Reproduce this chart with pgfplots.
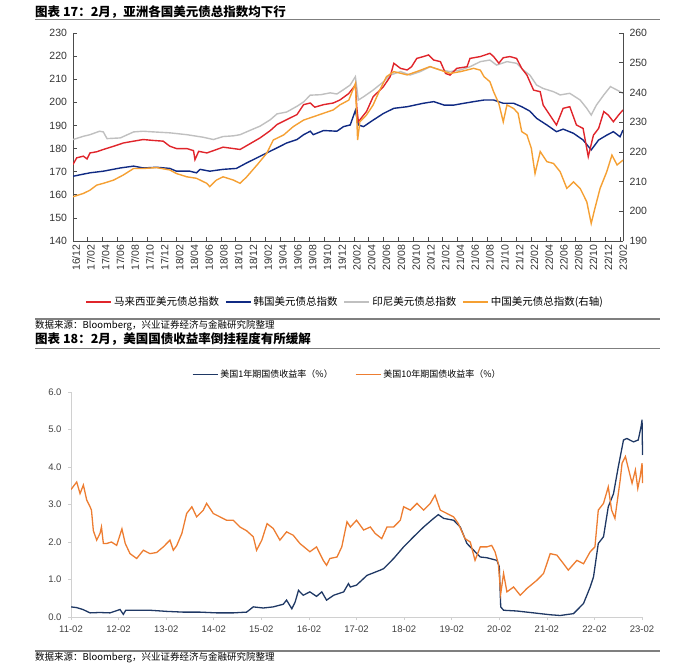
\documentclass[border=0pt]{standalone}
\usepackage{fontspec}
\setmainfont{Liberation Sans}
\newfontfamily\cjk{Noto Sans CJK SC}
\usepackage{pgfplots}
\usepackage{pgfplotstable}
\pgfplotsset{compat=1.18}
\definecolor{cRed}{HTML}{E0252B}
\definecolor{cNavy}{HTML}{102A83}
\definecolor{cGray}{HTML}{C0C0C0}
\definecolor{cOrg}{HTML}{F5A033}
\definecolor{cNavyB}{HTML}{1F3864}
\definecolor{cOrgB}{HTML}{ED7D31}
\definecolor{ruleGray}{HTML}{7F7F7F}
\definecolor{axGray}{HTML}{D0D0D0}

\pgfplotstableread{
m v
0 173.1
0.5 176
1.4 176.7
1.9 175.5
2.3 178.1
3.2 178.6
4.1 179.6
5.5 181
6.8 182.4
8.2 183.2
9.5 183.9
10.9 183.5
12.2 183.2
13.1 181
14 180
15.4 180
16.3 179.1
16.5 175.2
17 178.8
18.1 178.1
19 179.1
20.3 180.6
21.7 180
22.6 179.6
23.9 182
25.3 184.6
26.7 187.8
27.6 190.4
28.9 192.5
30.3 194.7
31.2 199
32.1 199.7
32.7 197.9
33.9 199
35.2 199.7
36.1 201
37.3 203.8
38.2 207.5
38.4 197.4
38.6 191.6
39.7 196
40.6 202.4
42 206.8
42.9 211.1
43.4 216.9
44.3 214.7
45.2 214
45.8 215.4
46.5 219
47.4 219.8
48.1 220.5
48.8 218.3
49.7 217.6
50.4 212.5
51 211.8
51.9 214.7
53.3 215.4
53.7 219
55.1 219.8
56.4 221.2
56.9 219.8
57.6 216.9
58.2 219.3
59.1 219.8
60 219
60.7 214.7
61.4 211.8
62.3 205.3
63.2 204.6
63.6 198.8
64.5 194.5
65.4 190.2
66.3 197.4
67.2 198.1
68.1 190.2
69 188.7
69.7 176.5
70.4 185.8
71.1 188.7
71.8 196
72.4 194.5
73.1 191.6
73.8 194.5
74.4 196.7
}\redtab

\pgfplotstableread{
m v
0 168.0
1.2 168.8
2.3 169.5
4.1 170.2
6.4 171.6
8.2 172.4
9.5 171.6
11.3 171.9
13.1 171.4
14.0 170.2
15.8 170.2
16.7 169.5
17.2 171.0
18.5 170.2
20.3 171.0
22.1 171.4
23.5 173.8
24.9 176.0
26.2 178.1
27.6 180.3
28.9 182.4
30.3 183.9
31.2 186.0
32.1 187.5
32.5 186.0
33.9 187.8
35.7 187.5
36.6 189.5
37.5 190.2
38.2 196.5
38.6 190.2
39.3 189.5
40.6 192.3
42 195.2
43.4 197.4
45.2 198.1
47.4 199.6
48.8 200.3
50.2 198.8
51.5 198.8
52.9 199.6
54.2 200.3
55.6 201
56.9 201
58.2 199.6
59.6 199.6
60.7 198.1
61.8 196.2
62.7 193.1
64.1 190.2
65.4 187.3
66.3 188.4
67.7 186.6
69 183.7
70.1 179.4
71.1 183.7
72.2 185.8
73.1 187.3
74 185.1
74.4 188
}\bluetab

\pgfplotstableread{
m v
0 183.9
1.4 185.3
2.3 186
3.6 187.5
4.1 187.2
4.6 184.3
6.4 184.6
8.2 187.2
9.5 187.5
10.9 187.2
13.1 186.8
15.4 186
17.6 184.9
19 183.9
20.3 185.2
21.7 185.5
22.6 186
23.9 187.8
25.3 189.7
26.7 192.5
27.6 195
28.9 195.8
30.3 198.3
31.2 200.2
32.1 203.1
33.5 203.3
34.8 204.1
35.7 203.6
36.6 205.5
37.5 207.5
38.2 211.1
38.6 201
39.3 202.4
40.6 205.3
42 208.9
42.9 211.8
44.3 213.3
45.6 211.8
47 213.3
48.3 215.4
49.7 214
51 213.3
52.4 214
53.7 215.4
55.1 217.6
56.4 218.3
57.3 216.1
58.7 217.6
60 216.9
60.9 214
61.8 211.8
62.7 207.5
63.6 206
65 204.6
65.9 203.2
67.2 203.9
68.6 201
69.5 197.4
70.1 194.5
70.8 198.8
71.8 203.2
72.7 206.8
73.6 205.3
74.4 203.9
}\graytab

\pgfplotstableread{
m v
0 204.9
1.4 206
2.3 207.1
3.2 208.8
4.1 209.4
5.5 210.5
6.8 212.2
8.2 214.4
9.5 214.4
11.3 214.7
13.1 213.9
14 212.7
15.4 211.6
16.7 211.1
18.1 209.4
18.5 208.3
19.4 210.5
20.3 211.6
21.7 210.5
22.6 209.4
23.5 211.6
24.9 215.6
26.2 219.5
27.1 224
28.5 225.7
29.8 228.5
31.2 230.7
32.5 231.8
33.9 233
35.2 234.1
36.1 235.8
37.3 237.4
37.5 238.6
38.2 243
38.5 224
38.8 230.1
39.7 232.4
40.6 235.8
41.5 240.8
42.4 245.3
43.4 247
45.2 245.9
46.5 247
48.3 248.7
49.7 247.5
51 246.4
52.4 247
54.2 248.1
55.1 247.5
55.6 245.3
56.4 243.6
56.9 240.2
57.6 236.3
58.2 230.1
58.7 235.8
59.6 234.6
60.2 233
60.7 226.8
61.4 225.7
62 221.2
62.5 212.7
63.2 220.1
64.1 216.7
65 216.1
65.9 213.3
66.8 207.7
67.7 209.9
68.6 207.7
69.5 203.2
70.1 195.9
70.6 201
71.3 207.7
72.2 213.3
72.9 218.9
73.6 215.6
74.4 217.2
}\orgtab

\pgfplotstableread{
t v
0 0.27
0.12 0.25
0.25 0.2
0.40 0.11
0.6 0.12
0.82 0.11
1.03 0.2
1.1 0.07
1.15 0.18
1.31 0.18
1.66 0.18
2.01 0.15
2.36 0.13
2.71 0.13
3.06 0.11
3.41 0.11
3.69 0.13
3.83 0.27
4.04 0.24
4.25 0.27
4.46 0.34
4.53 0.45
4.64 0.22
4.71 0.40
4.78 0.71
4.88 0.58
5.02 0.67
5.16 0.55
5.27 0.67
5.37 0.45
5.52 0.58
5.73 0.67
5.83 0.89
5.87 0.8
6.0 0.85
6.22 1.11
6.50 1.25
6.57 1.29
6.78 1.56
6.99 1.87
7.20 2.14
7.41 2.40
7.62 2.63
7.72 2.73
7.83 2.63
8.04 2.58
8.18 2.40
8.32 1.96
8.46 1.78
8.60 1.60
8.74 1.58
8.95 1.51
9.00 1.34
9.03 0.27
9.09 0.18
9.37 0.16
9.72 0.11
10.07 0.06
10.28 0.04
10.56 0.09
10.77 0.36
10.91 0.80
10.98 1.07
11.08 1.96
11.19 2.14
11.29 2.94
11.40 3.29
11.50 4.0
11.61 4.72
11.68 4.76
11.82 4.67
11.92 4.72
11.98 5.08
12.0 5.26
12.01 4.32
}\oneytab

\pgfplotstableread{
t v
0 3.4
0.12 3.6
0.19 3.29
0.26 3.52
0.33 3.12
0.40 2.94
0.43 2.85
0.47 2.3
0.54 2.05
0.61 2.23
0.64 2.4
0.68 1.96
0.75 1.96
0.85 2.0
0.96 1.91
1.07 2.35
1.14 1.96
1.24 1.69
1.38 1.56
1.52 1.78
1.66 1.69
1.80 1.72
1.94 1.87
2.08 2.05
2.15 1.78
2.22 1.9
2.33 2.23
2.43 2.76
2.54 2.94
2.64 2.67
2.78 2.85
2.85 3.03
2.99 2.76
3.13 2.67
3.27 2.58
3.41 2.58
3.55 2.4
3.69 2.3
3.83 2.14
3.90 1.78
4.01 2.05
4.12 2.49
4.25 2.36
4.39 2.05
4.53 2.27
4.67 2.18
4.81 1.96
5.02 1.74
5.16 1.87
5.30 1.51
5.37 1.38
5.44 1.56
5.59 1.6
5.69 1.87
5.80 2.54
5.87 2.4
6.0 2.58
6.15 2.32
6.29 2.4
6.39 2.23
6.53 2.09
6.64 2.4
6.78 2.4
6.92 2.58
6.99 2.94
7.13 2.85
7.27 3.03
7.41 2.85
7.55 3.03
7.65 3.25
7.76 2.85
7.90 2.76
8.04 2.67
8.14 2.49
8.28 2.09
8.39 2.0
8.49 1.51
8.60 1.87
8.74 1.87
8.84 1.91
8.91 1.74
8.98 1.42
9.03 0.62
9.09 1.16
9.16 0.67
9.30 0.8
9.44 0.58
9.58 0.76
9.79 0.98
9.93 1.16
10.07 1.69
10.21 1.65
10.35 1.42
10.45 1.25
10.63 1.51
10.77 1.42
10.91 1.74
11.01 1.87
11.08 2.85
11.19 3.03
11.29 3.47
11.36 2.85
11.43 2.63
11.54 3.65
11.58 4.1
11.65 4.28
11.72 3.92
11.79 3.57
11.86 3.92
11.91 3.43
11.96 3.74
12.0 4.1
12.01 3.57
}\tenytab

\begin{document}
\begin{tikzpicture}[x=1pt,y=1pt]
\useasboundingbox (0pt,0pt) rectangle (700pt,669pt);

% ---------- Chart 17 ----------
\node[anchor=west,inner sep=0] at (35pt,657.3pt) {\fontsize{12.5}{14}\selectfont\cjk\bfseries 图表 17：2月，亚洲各国美元债总指数均下行};
\draw[ruleGray,line width=0.8pt] (35pt,649.7pt) -- (660pt,649.7pt);

\pgfplotsset{
  c1/.style={
    at={(73pt,428pt)}, anchor=south west, scale only axis,
    width=550pt, height=208pt,
    xmin=0, xmax=74.4,
    /pgf/number format/assume math mode=true,
    tick label style={font=\fontsize{10.5}{12}\selectfont, black!80},
    axis line style={black!70, line width=0.8pt},
    tick style={black!70, line width=0.6pt},
    tick align=inside, major tick length=4pt,
  }
}
\begin{axis}[c1,
  ymin=140, ymax=230, ytick={140,150,...,230},
  axis x line*=bottom, axis y line*=left,
  yticklabel style={xshift=-2.5pt},
  xtick={0,2,...,74},
  xticklabels={16/12,17/02,17/04,17/06,17/08,17/10,17/12,18/02,18/04,18/06,18/08,18/10,18/12,19/02,19/04,19/06,19/08,19/10,19/12,20/02,20/04,20/06,20/08,20/10,20/12,21/02,21/04,21/06,21/08,21/10,21/12,22/02,22/04,22/06,22/08,22/10,22/12,23/02},
  xticklabel style={rotate=90, anchor=east, yshift=-3pt},
  ]
  \addplot[cGray, line width=1.4pt] table[x=m,y=v] {\graytab};
  \addplot[cNavy, line width=1.4pt] table[x=m,y=v] {\bluetab};
  \addplot[cRed, line width=1.4pt] table[x=m,y=v] {\redtab};
\end{axis}
\begin{axis}[c1,
  ymin=190, ymax=260, ytick={190,200,...,260},
  hide x axis, axis y line*=right,
  yticklabel style={xshift=3pt},
  legend style={at={(0.495,-0.292)}, anchor=center, draw=none, fill=none,
     font=\fontsize{10.5}{12}\selectfont, legend columns=4,
     /tikz/every even column/.append style={column sep=4pt},
     inner sep=0pt, nodes={inner sep=2pt}},
  legend image code/.code={\draw[#1] (0pt,0pt) -- (25pt,0pt);},
  ]
  \addplot[cOrg, line width=1.4pt, forget plot] table[x=m,y=v] {\orgtab};
  \addlegendimage{cRed, line width=1.6pt}
  \addlegendentry{\cjk 马来西亚美元债总指数}
  \addlegendimage{cNavy, line width=1.6pt}
  \addlegendentry{\cjk 韩国美元债总指数}
  \addlegendimage{cGray, line width=1.6pt}
  \addlegendentry{\cjk 印尼美元债总指数}
  \addlegendimage{cOrg, line width=1.6pt}
  \addlegendentry{\cjk 中国美元债总指数(右轴)}
\end{axis}

\draw[ruleGray,line width=1.2pt] (35pt,350pt) -- (660pt,350pt);
\node[anchor=west,inner sep=0] at (35pt,343pt) {\fontsize{9.5}{11}\selectfont\cjk 数据来源：Bloomberg，兴业证券经济与金融研究院整理};
\node[anchor=west,inner sep=0] at (35pt,330pt) {\fontsize{12.5}{14}\selectfont\cjk\bfseries 图表 18：2月，美国国债收益率倒挂程度有所缓解};
\draw[ruleGray,line width=0.8pt] (35pt,321pt) -- (660pt,321pt);

% ---------- Chart 18 ----------
\begin{axis}[
  at={(71pt,52pt)}, anchor=south west, scale only axis,
  width=572pt, height=225pt,
  xmin=0, xmax=12.02, ymin=0, ymax=6,
  axis x line*=bottom, axis y line*=left,
  axis line style={axGray, line width=0.8pt},
  tick style={axGray, line width=0.6pt},
  tick align=outside, major tick length=3pt,
  /pgf/number format/assume math mode=true,
  tick label style={font=\fontsize{9.5}{11}\selectfont, black!75},
  ytick={0,1,...,6},
  yticklabel style={/pgf/number format/fixed, /pgf/number format/fixed zerofill, /pgf/number format/precision=1, xshift=-3pt},
  xtick={0,1,...,12},
  xticklabels={11-02,12-02,13-02,14-02,15-02,16-02,17-02,18-02,19-02,20-02,21-02,22-02,23-02},
  xticklabel style={yshift=-2pt},
  legend style={at={(0.483,1.077)}, anchor=center, draw=none, fill=none,
     font=\fontsize{9}{11}\selectfont, legend columns=2,
     /tikz/every even column/.append style={column sep=20pt},
     inner sep=0pt, nodes={inner sep=2pt}},
  legend image code/.code={\draw[#1] (0pt,0pt) -- (25pt,0pt);},
  ]
  \addplot[cNavyB, line width=1.3pt, forget plot] table[x=t,y=v] {\oneytab};
  \addplot[cOrgB, line width=1.3pt, forget plot] table[x=t,y=v] {\tenytab};
  \addlegendimage{cNavyB, line width=1.6pt}
  \addlegendentry{\cjk 美国1年期国债收益率（\%）}
  \addlegendimage{cOrgB, line width=1.6pt}
  \addlegendentry{\cjk 美国10年期国债收益率（\%）}
\end{axis}

\draw[ruleGray,line width=1.2pt] (35pt,18pt) -- (660pt,18pt);
\node[anchor=west,inner sep=0] at (35pt,11pt) {\fontsize{9.5}{11}\selectfont\cjk 数据来源：Bloomberg，兴业证券经济与金融研究院整理};
\end{tikzpicture}
\end{document}
